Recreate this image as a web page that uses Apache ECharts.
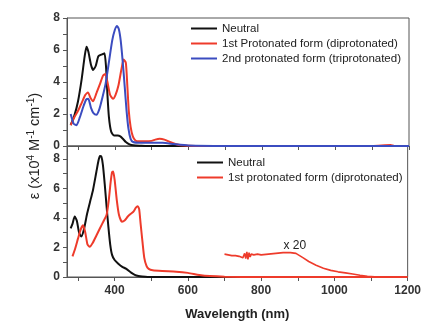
<!DOCTYPE html>
<html><head><meta charset="utf-8">
<script src="https://cdn.jsdelivr.net/npm/echarts@6/dist/echarts.min.js"></script>
<style>html,body{margin:0;padding:0;background:#fff}#c{width:424px;height:326px}</style>
</head><body><div id="c"></div>
<script>
// ---- Top panel data ----
const topNeutralX = [280,290,300,310,318,323,328,335,341,348,355,362,368,372,376,380,384,390,398,408,415,422,430,440,450,470,500,600,800,1000,1200];
const topNeutralY = [1.3,1.9,2.8,4.2,5.6,6.2,5.9,5.1,4.75,5.0,5.6,5.7,5.75,5.8,5.0,3.2,1.8,0.9,0.65,0.65,0.6,0.45,0.25,0.1,0.04,0.02,0,0,0,0,0];
const topRed1X = [280,290,300,310,320,327,334,341,350,360,368,374,380,387,395,402,410,418,424,430,434,438,443,449,456,465,480,500,510,522,535,550,565,580,620,700,900,1100,1150,1160,1200];
const topRed1Y = [1.3,1.8,2.2,2.7,3.2,3.35,3.0,2.8,3.3,3.9,4.4,4.5,4.0,3.2,2.95,3.2,3.8,4.8,5.4,5.2,3.8,2.2,1.2,0.6,0.35,0.3,0.3,0.32,0.4,0.45,0.4,0.25,0.12,0.04,0,0,0,0,0.06,0,0];
const topBlueX = [280,288,296,305,315,322,328,335,342,350,358,366,375,385,393,400,406,411,416,421,427,432,437,443,450,470,500,530,560,600,700,1200];
const topBlueY = [2.0,1.4,1.3,1.8,2.5,2.9,2.95,2.4,2.05,1.95,2.3,3.0,3.9,5.4,6.6,7.25,7.5,7.3,6.6,5.4,3.7,2.2,1.1,0.45,0.25,0.2,0.2,0.2,0.12,0.03,0,0];
// ---- Bottom panel data ----
const botNeutralX = [280,285,291,297,303,309,316,325,335,341,350,356,360,364,368,373,378,383,388,393,400,410,420,432,445,455,465,475,490,520,700,955];
const botNeutralY = [3.3,3.6,4.1,3.8,3.0,2.75,3.2,4.3,5.3,5.9,7.1,7.9,8.2,8.15,7.6,6.3,4.8,3.4,2.2,1.5,1.15,0.9,0.7,0.55,0.3,0.15,0.07,0.03,0,0,0,0];
const botRed1X = [285,292,300,307,314,320,326,332,340,350,360,370,378,384,389,393,396,400,406,412,420,428,436,445,452,458,463,467,471,476,481,487,493,504,530,568,600,631,660,700,800,1000,1200];
const botRed1Y = [1.4,1.9,2.6,3.2,3.5,3.0,2.2,2.05,2.3,2.8,3.3,3.8,4.2,5.2,6.4,7.1,7.15,6.6,5.2,4.2,3.75,3.85,4.1,4.3,4.45,4.7,4.8,4.6,3.6,2.4,1.3,0.75,0.55,0.45,0.4,0.36,0.28,0.14,0.06,0.02,0,0,0];
const x20X = [700,710,720,730,740,745,750,755,758,761,764,767,770,773,776,780,785,790,800,820,840,860,880,895,905,915,930,950,970,990,1010,1030,1050,1070,1090,1110,1130,1160];
const x20Y = [1.55,1.5,1.45,1.45,1.4,1.5,1.3,1.6,1.25,1.7,1.2,1.65,1.35,1.55,1.45,1.5,1.45,1.55,1.5,1.55,1.6,1.65,1.65,1.6,1.45,1.3,1.05,0.8,0.6,0.45,0.35,0.28,0.2,0.12,0.05,0.02,0,0];
// ---- Axis labels ----
const xLabels = [400,600,800,1000,1200];
const xTicks = [300,400,500,600,700,800,900,1000,1100,1200];
const yLabels = [0,2,4,6,8];
const yTicks = [0,1,2,3,4,5,6,7,8];

const zip = (a,b) => a.map((v,i)=>[v,b[i]]);
const BLACK='#111111', RED='#ee3b2b', BLUE='#3b4cc0';
const axisColor='#555';
const labelFont = {fontFamily:'Liberation Sans, Arial', fontSize:12, fontWeight:'bold', color:'#333'};

function xAxisDef(gi, showLabels){
  return {type:'value', gridIndex:gi, min:270, max:1200,
    axisLine:{show:true, lineStyle:{color:axisColor}},
    axisTick:{show:true, customValues:xTicks, length:4, lineStyle:{color:axisColor}},
    axisLabel:Object.assign({show:showLabels, customValues:xLabels, margin:8, formatter:v=>String(v)}, labelFont),
    splitLine:{show:false},
    name: showLabels ? 'Wavelength (nm)' : '',
    nameLocation:'middle', nameGap:31,
    nameTextStyle:{fontFamily:'Liberation Sans, Arial', fontSize:13, fontWeight:'bold', color:'#222'}
  };
}
function yAxisDef(gi, max){
  return {type:'value', gridIndex:gi, min:0, max:max,
    axisLine:{show:true, lineStyle:{color:axisColor}},
    axisTick:{show:true, customValues:yTicks, length:4, lineStyle:{color:axisColor}},
    axisLabel:Object.assign({customValues:yLabels, margin:7, formatter:v=>String(v)}, labelFont),
    splitLine:{show:false}
  };
}
function line(name, xi, x, y, color, extra){
  return Object.assign({type:'line', name:name, xAxisIndex:xi, yAxisIndex:xi, data:zip(x,y),
    showSymbol:false, smooth:0.2, lineStyle:{color:color, width:2}, itemStyle:{color:color}, animation:false}, extra||{});
}
const chart = echarts.init(document.getElementById('c'), null, {renderer:'canvas'});
const legendText = {fontFamily:'Liberation Sans, Arial', fontSize:11.5, color:'#222', lineHeight:13};
chart.setOption({
  backgroundColor:'#fff',
  animation:false,
  grid:[
    {left:67, right:15, top:18, height:128, show:true, borderColor:axisColor, borderWidth:1, backgroundColor:'#fff'},
    {left:67, right:15, top:146, height:131, show:true, borderColor:axisColor, borderWidth:1, backgroundColor:'#fff'}
  ],
  xAxis:[xAxisDef(0,false), xAxisDef(1,true)],
  yAxis:[yAxisDef(0,8), yAxisDef(1,8.88)],
  legend:[
    {data:['Neutral','1st Protonated form (diprotonated)','2nd protonated form (triprotonated)'],
     orient:'vertical', left:186, top:17, itemWidth:26, itemHeight:2, itemGap:2, icon:'rect',
     textStyle:legendText, selectedMode:false},
    {data:['Neutral','1st protonated form (diprotonated)'],
     orient:'vertical', left:192, top:151, itemWidth:26, itemHeight:2, itemGap:2, icon:'rect',
     textStyle:legendText, selectedMode:false}
  ],
  graphic:[
    {type:'text', x:35, y:146, rotation:Math.PI/2,
     style:{text:'ε (x10{s|4} M{s|-1} cm{s|-1})', fontFamily:'Liberation Sans, Arial', fontSize:14.5, fill:'#222',
       align:'center', verticalAlign:'middle',
       rich:{s:{fontSize:10, verticalAlign:'top', fontFamily:'Liberation Sans, Arial', fill:'#222', padding:[0,0,7,0]}}}}
  ],
  series:[
    line('Neutral',0,topNeutralX,topNeutralY,BLACK),
    line('1st Protonated form (diprotonated)',0,topRed1X,topRed1Y,RED),
    line('2nd protonated form (triprotonated)',0,topBlueX,topBlueY,BLUE),
    line('Neutral',1,botNeutralX,botNeutralY,BLACK),
    line('1st protonated form (diprotonated)',1,botRed1X,botRed1Y,RED),
    line('x20',1,x20X,x20Y,RED,{smooth:false, lineStyle:{color:RED,width:1.6},
      markPoint:{symbol:'circle', symbolSize:0, data:[{coord:[892,2.1], value:'x 20'}],
        label:{show:true, formatter:'x 20', position:'inside', fontFamily:'Liberation Sans, Arial', fontSize:12, color:'#222'}}})
  ]
});
</script></body></html>
